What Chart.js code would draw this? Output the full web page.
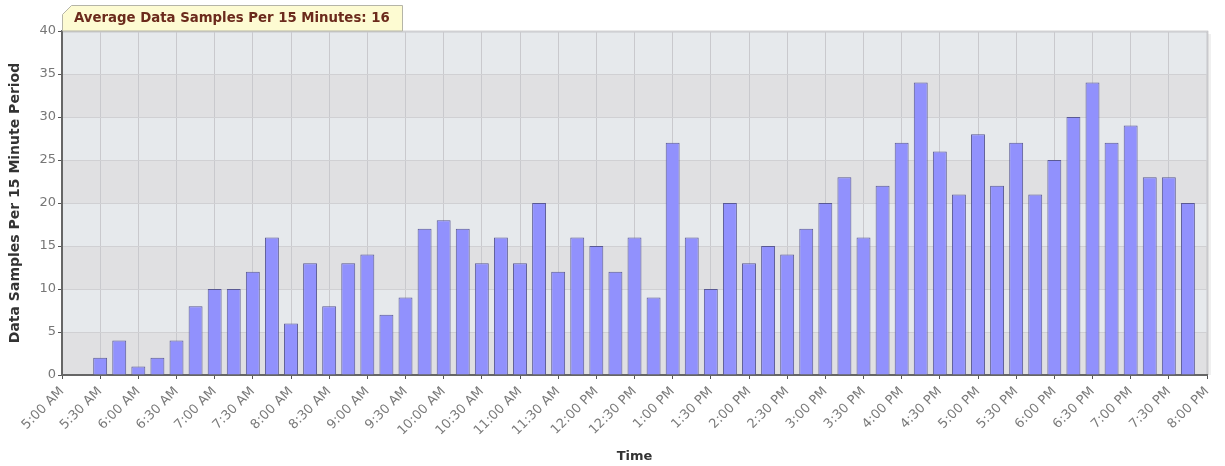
<!DOCTYPE html>
<html>
<head>
<meta charset="utf-8">
<script src="https://cdn.jsdelivr.net/npm/chart.js@4/dist/chart.umd.min.js"></script>
<style>
  html, body { margin: 0; padding: 0; background: #fff; }
  #wrap { width: 1225px; height: 466px; position: relative; }
</style>
</head>
<body>
<div id="wrap"><canvas id="myChart"></canvas></div>
<script>
// every 15 minutes, half hours get a label
const times = [
  '5:00 AM', '5:15 AM', '5:30 AM', '5:45 AM', '6:00 AM', '6:15 AM', '6:30 AM', '6:45 AM',
  '7:00 AM', '7:15 AM', '7:30 AM', '7:45 AM', '8:00 AM', '8:15 AM', '8:30 AM', '8:45 AM',
  '9:00 AM', '9:15 AM', '9:30 AM', '9:45 AM', '10:00 AM', '10:15 AM', '10:30 AM', '10:45 AM',
  '11:00 AM', '11:15 AM', '11:30 AM', '11:45 AM', '12:00 PM', '12:15 PM', '12:30 PM', '12:45 PM',
  '1:00 PM', '1:15 PM', '1:30 PM', '1:45 PM', '2:00 PM', '2:15 PM', '2:30 PM', '2:45 PM',
  '3:00 PM', '3:15 PM', '3:30 PM', '3:45 PM', '4:00 PM', '4:15 PM', '4:30 PM', '4:45 PM',
  '5:00 PM', '5:15 PM', '5:30 PM', '5:45 PM', '6:00 PM', '6:15 PM', '6:30 PM', '6:45 PM',
  '7:00 PM', '7:15 PM', '7:30 PM', '7:45 PM', '8:00 PM'
];
const samples = [
  null, null, 2, 4, 1, 2, 4, 8,
  10, 10, 12, 16, 6, 13, 8, 13,
  14, 7, 9, 17, 18, 17, 13, 16,
  13, 20, 12, 16, 15, 12, 16, 9,
  27, 16, 10, 20, 13, 15, 14, 17,
  20, 23, 16, 22, 27, 34, 26, 21,
  28, 22, 27, 21, 25, 30, 34, 27,
  29, 23, 23, 20, null
];
const avgLabel = 'Average Data Samples Per 15 Minutes: 16';
const yTitle = 'Data Samples Per 15 Minute Period';
const xTitle = 'Time';

// alternating grey bands behind the bars + frame on top/right
const bands = {
  id: 'bands',
  beforeDraw(chart) {
    const {ctx, chartArea: a, scales: {y}} = chart;
    ctx.save();
    for (let v = 0; v < 40; v += 5) {
      const y1 = y.getPixelForValue(v + 5), y0 = y.getPixelForValue(v);
      ctx.fillStyle = (v / 5) % 2 ? '#e6e9ec' : '#e0e0e2';
      ctx.fillRect(a.left, y1, a.right - a.left, y0 - y1);
    }
    // light shadow to the right
    ctx.fillStyle = 'rgba(0,0,0,0.06)';
    ctx.fillRect(a.right + 1, a.top + 3, 3, a.bottom - a.top - 3);
    ctx.strokeStyle = '#a8a8a8';
    ctx.lineWidth = 1.5;
    ctx.beginPath();
    ctx.moveTo(a.left, a.top + 0.5);
    ctx.lineTo(a.right + 0.5, a.top + 0.5);
    ctx.lineTo(a.right + 0.5, a.bottom);
    ctx.stroke();
    ctx.restore();
  }
};

// yellow note box above the plot
const note = {
  id: 'note',
  afterDraw(chart) {
    const {ctx, chartArea: a} = chart;
    const x0 = a.left + 0.5, x1 = 402.5, yb = a.top, yt = 5.5;
    ctx.save();
    ctx.beginPath();
    ctx.moveTo(x0, yb);
    ctx.lineTo(x0, yt + 9);
    ctx.lineTo(x0 + 9, yt);
    ctx.lineTo(x1, yt);
    ctx.lineTo(x1, yb);
    ctx.closePath();
    ctx.fillStyle = '#fdfbd2';
    ctx.fill();
    ctx.strokeStyle = '#b5b5a8';
    ctx.lineWidth = 1;
    ctx.stroke();
    ctx.fillStyle = '#6b2a1c';
    ctx.font = 'bold 13.3px "DejaVu Sans"';
    ctx.textBaseline = 'middle';
    ctx.fillText(avgLabel, 74, 19);
    ctx.restore();
  }
};

const ctx = document.getElementById('myChart');
new Chart(ctx, {
    type: 'bar',
    data: {
        labels: times,
        datasets: [{
            data: samples,
            backgroundColor: '#9191fd',
            borderColor: '#5a5a94',
            borderWidth: 1,
            borderSkipped: 'bottom',
            categoryPercentage: 1,
            barPercentage: 0.73
        }]
    },
    options: {
        responsive: true,
        maintainAspectRatio: false,
        animation: false,
        layout: {
            padding: {top: 31, right: 18, left: 0, bottom: 0}
        },
        plugins: {
            legend: {display: false},
            tooltip: {enabled: false}
        },
        scales: {
            x: {
                offset: false,
                afterFit: (s) => { s.height = 91; },
                grid: {
                    offset: false,
                    color: '#c9c9cd',
                    tickColor: '#555',
                    tickLength: 4
                },
                border: {color: '#666', width: 2},
                ticks: {
                    autoSkip: false,
                    minRotation: 45,
                    maxRotation: 45,
                    padding: 5,
                    color: '#7a7a7a',
                    font: {family: 'DejaVu Sans', size: 13},
                    // only half hours get a label (null also hides the grid line)
                    callback: function (value, index) {
                        return index % 2 === 0 ? this.getLabelForValue(value) : null;
                    }
                },
                title: {
                    display: true,
                    text: xTitle,
                    color: '#333',
                    font: {family: 'DejaVu Sans', size: 13, weight: 'bold'},
                    padding: {top: 0, bottom: 2}
                }
            },
            y: {
                min: 0,
                max: 40,
                afterFit: (s) => { s.width = 62; },
                grid: {
                    color: '#d0d0d3',
                    tickColor: '#555',
                    tickLength: 4
                },
                border: {color: '#666', width: 2},
                ticks: {
                    stepSize: 5,
                    padding: 2,
                    color: '#777',
                    font: {family: 'DejaVu Sans', size: 13}
                },
                title: {
                    display: true,
                    text: yTitle,
                    color: '#333',
                    font: {family: 'DejaVu Sans', size: 14, weight: 'bold'},
                    padding: {top: 7, bottom: 0}
                }
            }
        }
    },
    plugins: [bands, note]
});
</script>
</body>
</html>
